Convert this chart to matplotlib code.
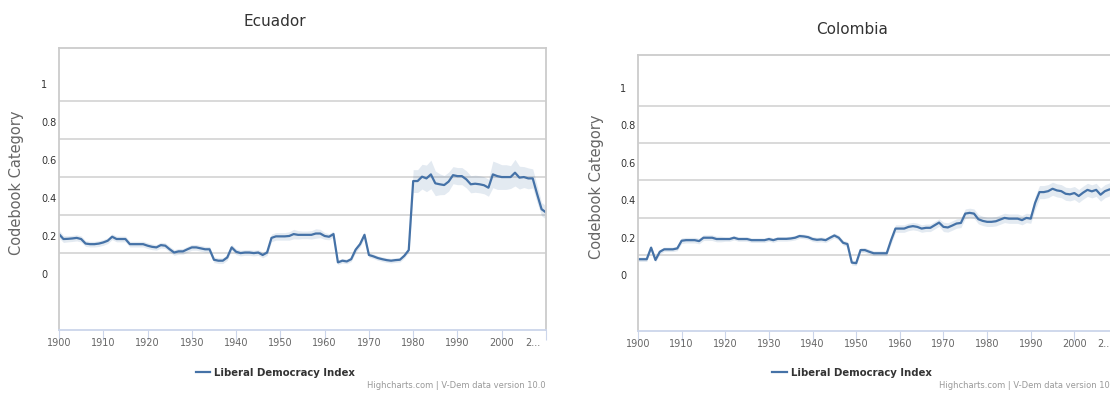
import numpy as np
import matplotlib.pyplot as plt
import matplotlib.transforms as mtransforms

# DATA (yearly 1900-2010)
years = np.arange(1900, 2011)

ecuador = [
    0.210, 0.184, 0.185, 0.187, 0.190, 0.184, 0.160, 0.157, 0.157, 0.160,
    0.166, 0.175, 0.196, 0.184, 0.184, 0.184, 0.157, 0.157, 0.157, 0.157,
    0.149, 0.143, 0.140, 0.152, 0.149, 0.130, 0.113, 0.119, 0.119, 0.130,
    0.140, 0.140, 0.135, 0.130, 0.130, 0.075, 0.070, 0.070, 0.087, 0.140,
    0.117, 0.110, 0.113, 0.113, 0.110, 0.113, 0.100, 0.113, 0.190, 0.198,
    0.198, 0.198, 0.200, 0.210, 0.206, 0.206, 0.206, 0.206, 0.213, 0.213,
    0.200, 0.196, 0.210, 0.061, 0.070, 0.066, 0.078, 0.128, 0.157, 0.206,
    0.100, 0.093, 0.084, 0.078, 0.073, 0.070, 0.073, 0.075, 0.096, 0.126,
    0.489, 0.489, 0.512, 0.503, 0.524, 0.477, 0.472, 0.468, 0.486, 0.520,
    0.515, 0.515, 0.498, 0.472, 0.475, 0.472, 0.467, 0.454, 0.524, 0.515,
    0.510, 0.510, 0.510, 0.533, 0.507, 0.510, 0.503, 0.503, 0.420, 0.341,
    0.324,
]
ecuador_band = [
    0.020, 0.018, 0.016, 0.016, 0.016, 0.016, 0.015, 0.015, 0.015, 0.015,
    0.015, 0.015, 0.015, 0.015, 0.015, 0.015, 0.015, 0.015, 0.015, 0.015,
    0.015, 0.015, 0.015, 0.015, 0.015, 0.015, 0.015, 0.015, 0.015, 0.015,
    0.015, 0.015, 0.015, 0.015, 0.015, 0.015, 0.015, 0.015, 0.015, 0.015,
    0.015, 0.015, 0.015, 0.015, 0.015, 0.015, 0.015, 0.015, 0.020, 0.020,
    0.020, 0.020, 0.022, 0.025, 0.022, 0.020, 0.020, 0.022, 0.025, 0.022,
    0.018, 0.016, 0.016, 0.012, 0.012, 0.012, 0.012, 0.015, 0.015, 0.015,
    0.012, 0.012, 0.012, 0.012, 0.012, 0.012, 0.012, 0.012, 0.012, 0.012,
    0.060, 0.060, 0.065, 0.070, 0.075, 0.065, 0.055, 0.050, 0.050, 0.045,
    0.045, 0.045, 0.045, 0.045, 0.045, 0.045, 0.045, 0.045, 0.070, 0.070,
    0.065, 0.065, 0.060, 0.070, 0.060, 0.055, 0.055, 0.050, 0.045, 0.035,
    0.035,
]

colombia = [
    0.084, 0.084, 0.084, 0.146, 0.080, 0.124, 0.137, 0.137, 0.137, 0.142,
    0.183, 0.186, 0.186, 0.186, 0.181, 0.199, 0.199, 0.199, 0.192, 0.192,
    0.192, 0.192, 0.199, 0.192, 0.192, 0.192, 0.186, 0.186, 0.186, 0.186,
    0.192, 0.186, 0.193, 0.193, 0.193, 0.195, 0.199, 0.208, 0.206, 0.202,
    0.192, 0.188, 0.190, 0.186, 0.199, 0.211, 0.199, 0.172, 0.165, 0.066,
    0.063, 0.133, 0.133, 0.124, 0.116, 0.116, 0.116, 0.116, 0.186, 0.248,
    0.248, 0.248, 0.257, 0.261, 0.257, 0.248, 0.252, 0.252, 0.266, 0.280,
    0.257, 0.254, 0.264, 0.275, 0.278, 0.328, 0.332, 0.328, 0.298, 0.289,
    0.284, 0.284, 0.287, 0.296, 0.305, 0.301, 0.301, 0.301, 0.293, 0.305,
    0.301, 0.385, 0.443, 0.443, 0.448, 0.461, 0.452, 0.448, 0.434, 0.431,
    0.438, 0.422, 0.440, 0.455, 0.447, 0.455, 0.429, 0.448, 0.457, 0.462,
    0.470,
]
colombia_band = (
    [0.012] * 10 + [0.015] * 10 + [0.012] * 20 + [0.013] * 18
    + [0.020] * 12 + [0.025] * 21 + [0.035] * 20
)

tick_years = list(range(1900, 2011, 10))
tick_labels = [str(y) for y in range(1900, 2001, 10)] + ['2...']
ytick_vals = [0, 0.2, 0.4, 0.6, 0.8, 1]
ytick_labels = ['0', '0.2', '0.4', '0.6', '0.8', '1']

LINE = '#4572a7'
W, H = 1110, 394

fig = plt.figure(figsize=(W / 100, H / 100), dpi=100)


def px_axes(left, right, top, bottom):
    return fig.add_axes([left / W, (H - bottom) / H, (right - left) / W, (bottom - top) / H])


def draw_panel(ax, vals, band, title, title_xy, ylab_x, grid_off, ylim, legend_x, credit_x):
    vals = np.array(vals)
    band = np.array(band)
    ax.fill_between(years, vals - band, vals + band, color=LINE, alpha=0.15, lw=0)
    ax.plot(years, vals, color=LINE, lw=1.6, label='Liberal Democracy Index')
    ax.set_xlim(1900, 2010)
    ax.set_ylim(*ylim)
    for g in np.arange(5) * 0.2 + grid_off:
        ax.axhline(g, color='#d3d3d3', lw=1.2, zorder=0)

    ax.set_xticks(tick_years)
    ax.set_xticklabels(tick_labels, fontsize=7, color='#666666')
    ax.tick_params(axis='x', length=7.2, width=0.8, color='#ccd6eb', pad=-1)
    # truncated last label sits left of its tick, like the original
    last = ax.get_xticklabels()[-1]
    last.set_transform(last.get_transform()
                       + mtransforms.ScaledTranslation(-13 / 100, 0, fig.dpi_scale_trans))

    ax.set_yticks(ytick_vals)
    ax.set_yticklabels(ytick_labels, fontsize=7, color='#333333')
    ax.tick_params(axis='y', length=0, pad=13)
    for lab in ax.get_yticklabels():
        lab.set_horizontalalignment('left')

    for s in ax.spines.values():
        s.set_color('#cccccc')
        s.set_linewidth(1.3)
    ax.spines['bottom'].set_color('#ccd6eb')

    fig.text(title_xy[0] / W, 1 - title_xy[1] / H, title, fontsize=11, color='#333333',
             ha='center', va='center')
    ymid = ax.get_position().y0 + ax.get_position().height * 0.52
    fig.text(ylab_x / W, ymid, 'Codebook Category', rotation=90, fontsize=10.5,
             color='#666666', ha='center', va='center')
    ax.legend(loc='center', bbox_to_anchor=(legend_x / W, 21 / H), bbox_transform=fig.transFigure,
              frameon=False, prop={'weight': 'bold', 'size': 7.3}, labelcolor='#333333',
              handlelength=1.4, handletextpad=0.4)
    fig.text(credit_x / W, 4 / H, 'Highcharts.com | V-Dem data version 10.0', fontsize=6,
             color='#999999', ha='right', va='bottom')


ax1 = px_axes(59, 546, 48, 329.5)
draw_panel(ax1, ecuador, ecuador_band, 'Ecuador', (275, 22), 17, 0.11, (-0.292, 1.189), 275.5, 546)

ax2 = px_axes(638, 1118, 55, 330.5)
draw_panel(ax2, colombia, colombia_band, 'Colombia', (852, 30), 597, 0.105, (-0.297, 1.176), 852, 1118)

fig.savefig('out.png', dpi=100)
